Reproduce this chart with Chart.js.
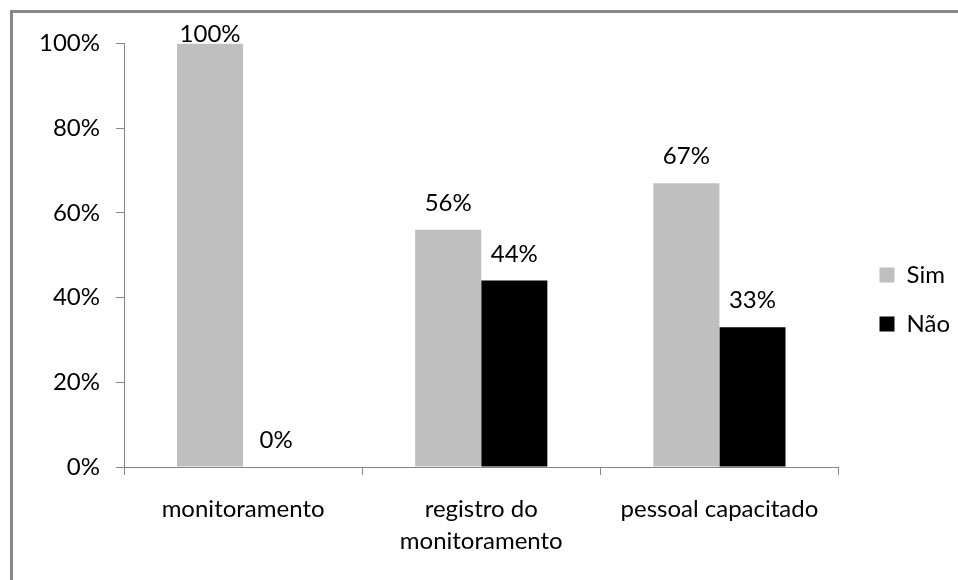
<!DOCTYPE html>
<html>
<head>
<meta charset="utf-8">
<script src="https://cdn.jsdelivr.net/npm/chart.js@4.4.0/dist/chart.umd.min.js"></script>
<style>
  html, body { margin: 0; padding: 0; background: #fff; overflow: hidden; }
  #frame {
    position: absolute; left: 10px; top: 10px; right: 0; bottom: 0;
    border-top: 3px solid #888888; border-left: 3px solid #888888;
  }
  #wrap { position: absolute; left: 0; top: 0; width: 945px; height: 567px; }
</style>
</head>
<body>
<div id="frame"><div id="wrap"><canvas id="chart"></canvas></div></div>
<script>
// Categories and series (fractions of 1)
const categories = ['monitoramento', ['registro do', 'monitoramento'], 'pessoal capacitado'];
const simValues = [1.00, 0.56, 0.67];
const naoValues = [0.00, 0.44, 0.33];
const seriesNames = ['Sim', 'Não'];
const yTicks = [0, 0.2, 0.4, 0.6, 0.8, 1.0];

const FONT = 'Lato';
const FONT_SIZE = 24;
const AXIS_GRAY = '#868686';

// Percent labels above each bar
const valueLabels = {
    id: 'valueLabels',
    afterDatasetsDraw(chart) {
        const ctx = chart.ctx;
        const top = chart.chartArea.top;
        ctx.save();
        ctx.font = FONT_SIZE + 'px ' + FONT;
        ctx.fillStyle = '#000';
        ctx.textAlign = 'center';
        ctx.textBaseline = 'alphabetic';
        chart.data.datasets.forEach((ds, di) => {
            chart.getDatasetMeta(di).data.forEach((bar, i) => {
                const y = Math.max(bar.y - 19, top - 1);
                ctx.fillText(Math.round(ds.data[i] * 100) + '%', bar.x, y);
            });
        });
        ctx.restore();
    }
};

// Leave a wider gap between the plot and the legend
const legendGap = {
    id: 'legendGap',
    afterLayout(chart) {
        if (chart.legend) {
            chart.legend.left += 16;
            chart.legend.right += 16;
        }
    }
};

new Chart(document.getElementById('chart'), {
    type: 'bar',
    data: {
        labels: categories,
        datasets: [
            { label: seriesNames[0], data: simValues, backgroundColor: '#bfbfbf' },
            { label: seriesNames[1], data: naoValues, backgroundColor: '#000000' }
        ]
    },
    options: {
        responsive: true,
        maintainAspectRatio: false,
        animation: false,
        datasets: { bar: { categoryPercentage: 0.555, barPercentage: 1.0 } },
        layout: { padding: { top: 28, left: 0, right: 14, bottom: 22 } },
        plugins: {
            legend: {
                position: 'right',
                labels: {
                    boxWidth: 15,
                    boxHeight: 15,
                    padding: 25,
                    color: '#000',
                    font: { family: FONT, size: FONT_SIZE }
                }
            },
            tooltip: { enabled: false }
        },
        scales: {
            x: {
                grid: { offset: true, drawOnChartArea: false, tickLength: 8, color: AXIS_GRAY },
                border: { color: AXIS_GRAY },
                ticks: {
                    color: '#000',
                    font: { family: FONT, size: FONT_SIZE, lineHeight: 1.3 },
                    padding: 19,
                    maxRotation: 0
                },
                afterFit: (s) => { s.height = 91; }
            },
            y: {
                min: 0,
                max: 1,
                afterBuildTicks: (s) => { s.ticks = yTicks.map(v => ({ value: v })); },
                grid: { drawOnChartArea: false, tickLength: 8, color: AXIS_GRAY },
                border: { color: AXIS_GRAY },
                ticks: {
                    color: '#000',
                    font: { family: FONT, size: FONT_SIZE },
                    padding: 16,
                    callback: (v) => Math.round(v * 100) + '%'
                },
                afterFit: (s) => { s.width = 111; }
            }
        }
    },
    plugins: [valueLabels, legendGap]
});
</script>
</body>
</html>
